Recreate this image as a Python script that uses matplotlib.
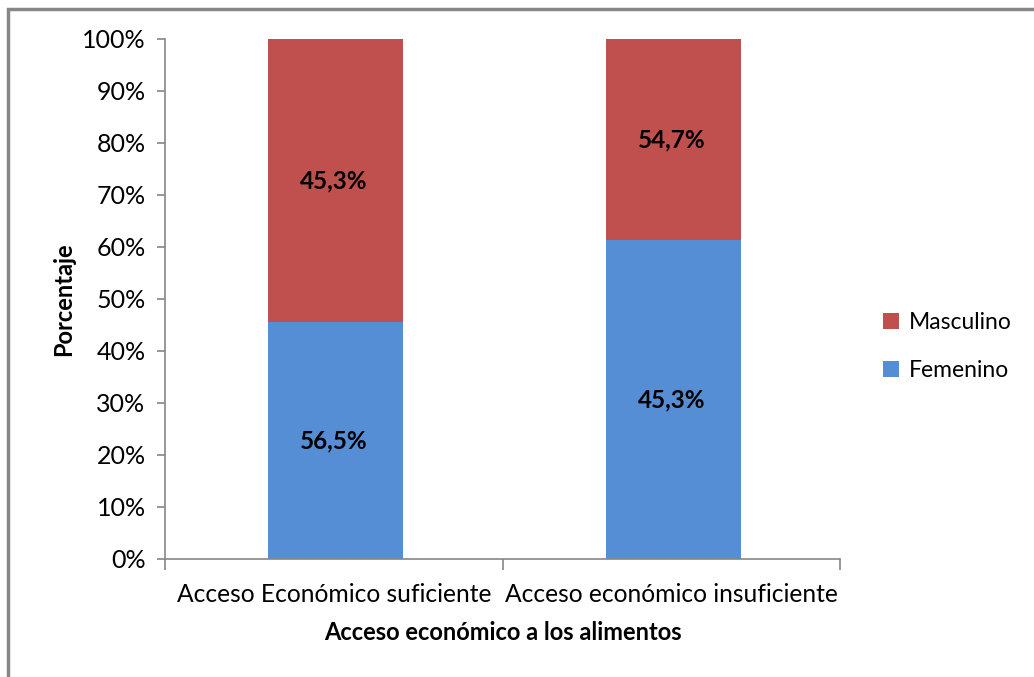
import matplotlib.pyplot as plt
from matplotlib.patches import Rectangle
import numpy as np

# Categories and stacked shares (percent of each bar)
categorias = ['Acceso Económico suficiente', 'Acceso económico insuficiente']
femenino = [45.6, 61.3]
masculino = [54.4, 38.7]

# Text printed on each segment
etiquetas_fem = ['56,5%', '45,3%']
etiquetas_masc = ['45,3%', '54,7%']

color_fem = '#558ED5'
color_masc = '#C0504D'
color_eje = '#868686'

plt.rcParams['font.family'] = ['Lato', 'DejaVu Sans']

fig = plt.figure(figsize=(10.34, 6.77), dpi=100)
ax = fig.add_axes([0.1596, 0.1743, 0.6528, 0.7681])

x = np.arange(len(categorias))
fem = np.array(femenino)
masc = np.array(masculino)

ax.bar(x + 0.006, fem, width=0.4, color=color_fem, label='Femenino', zorder=2)
ax.bar(x + 0.006, masc, width=0.4, bottom=fem, color=color_masc, label='Masculino', zorder=2)

for i in range(len(x)):
    ax.text(x[i], fem[i] / 2, etiquetas_fem[i], ha='center', va='center',
            fontsize=17.5, fontweight='bold', color='black')
    ax.text(x[i], fem[i] + masc[i] / 2, etiquetas_masc[i], ha='center', va='center',
            fontsize=17.5, fontweight='bold', color='black')

ax.set_xlim(-0.5, 1.5)
ax.set_ylim(0, 100)
ax.set_yticks(np.arange(0, 101, 10))
ax.set_yticklabels([f'{v}%' for v in range(0, 101, 10)], fontsize=18)
ax.set_xticks(x)
ax.set_xticklabels(categorias, fontsize=17.7)
ax.set_xticks([-0.5, 0.5, 1.5], minor=True)
ax.tick_params(axis='x', which='major', length=0, pad=17)
ax.tick_params(axis='x', which='minor', length=8, color=color_eje, width=1.2)
ax.tick_params(axis='y', length=6, color=color_eje, width=1.2, pad=8)

for s in ['top', 'right']:
    ax.spines[s].set_visible(False)
for s in ['left', 'bottom']:
    ax.spines[s].set_color(color_eje)
    ax.spines[s].set_linewidth(1.2)

ax.set_ylabel('Porcentaje', fontsize=17, fontweight='bold', labelpad=5)
ax.set_xlabel('Acceso económico a los alimentos', fontsize=17, fontweight='bold', labelpad=11)

handles, labels = ax.get_legend_handles_labels()
fig.legend(handles[::-1], labels[::-1], loc='center left',
           bbox_to_anchor=(883 / 1034, 0.488), frameon=False, fontsize=16.5,
           borderpad=0, borderaxespad=0,
           handlelength=0.7, handleheight=0.7, handletextpad=0.45, labelspacing=1.15)

# outer chart frame
fig.patches.append(Rectangle((8 / 1034, -0.05), 1.2, 1 - 9 / 677 + 0.05,
                             transform=fig.transFigure, fill=False,
                             edgecolor='#878787', linewidth=2.5))

fig.savefig('out.png', dpi=100)
